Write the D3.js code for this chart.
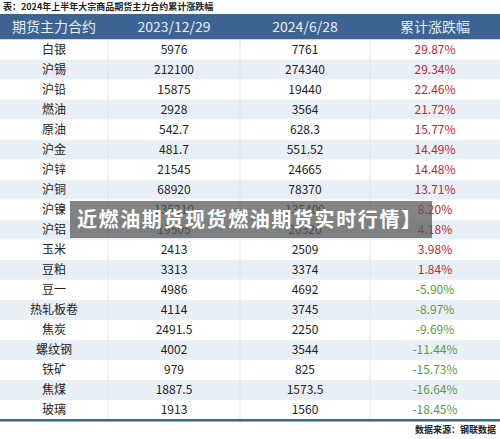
<!DOCTYPE html><html><head><meta charset="utf-8"><script src="https://cdn.jsdelivr.net/npm/d3@7"></script>
<style>body{margin:0;background:#fff}</style></head><body><svg id="c" width="500" height="439"></svg>
<script>
const names=["白银","沪锡","沪铅","燃油","原油","沪金","沪锌","沪铜","沪镍","沪铝","玉米","豆粕","豆一","热轧板卷","焦炭","螺纹钢","铁矿","焦煤","玻璃"];
const start=["5976","212100","15875","2928","542.7","481.7","21545","68920","135210","19505","2413","3313","4986","4114","2491.5","4002","979","1887.5","1913"];
const end=["7761","274340","19440","3564","628.3","551.52","24665","78370","135400","20320","2509","3374","4692","3745","2250","3544","825","1573.5","1560"];
const chg=[29.87,29.34,22.46,21.72,15.77,14.49,14.48,13.71,8.20,4.18,3.98,1.84,-5.90,-8.97,-9.69,-11.44,-15.73,-16.64,-18.45];
const headers=["期货主力合约","2023/12/29","2024/6/28","累计涨跌幅"];
const svg=d3.select("#c"),F="'Noto Sans CJK SC','Noto Sans',sans-serif";
const edges=[0,108,240,370,500],cx=i=>(edges[i]+edges[i+1])/2;
const y=d3.scaleBand().domain(d3.range(names.length)).range([39.5,420]);
svg.append("text").attr("x",3).attr("y",10).attr("font-family",F).attr("font-weight","bold").attr("font-size",9).attr("fill","#222").text("表：2024年上半年大宗商品期货主力合约累计涨跌幅");
svg.append("rect").attr("x",0).attr("y",14).attr("width",500).attr("height",25.5).attr("fill","#3d6393");
headers.forEach((h,i)=>svg.append("text").attr("x",cx(i)).attr("y",32).attr("text-anchor","middle").attr("font-family",F).attr("font-size",14).attr("fill","#e8eef6").text(h));
names.forEach((n,i)=>{
 const g=svg.append("g").attr("transform",`translate(0,${y(i)})`);
 g.append("rect").attr("width",500).attr("height",y.bandwidth()).attr("fill",i%2?"#e9eff7":"#fff");
 const vals=[n,start[i],end[i],chg[i].toFixed(2)+"%"];
 vals.forEach((v,j)=>g.append("text").attr("x",cx(j)).attr("y",y.bandwidth()/2+4.5).attr("text-anchor","middle").attr("font-family",F).attr("font-size",12).attr("fill",j<3?"#222":(chg[i]>=0?"#c0282c":"#5a9a3c")).text(v));
});
[108,240,370].forEach(e=>svg.append("line").attr("x1",e).attr("x2",e).attr("y1",39.5).attr("y2",420).attr("stroke","#dfe5ee"));
svg.append("rect").attr("x",0).attr("y",419).attr("width",500).attr("height",2.5).attr("fill","#3d6393");
svg.append("text").attr("x",496).attr("y",433).attr("text-anchor","end").attr("font-family",F).attr("font-weight","bold").attr("font-size",9).attr("fill","#222").text("数据来源：钢联数据");
svg.append("rect").attr("x",70).attr("y",201).attr("width",362).attr("height",37).attr("fill","rgba(90,90,90,0.75)");
svg.append("text").attr("x",77).attr("y",227).attr("font-family",F).attr("font-weight","bold").attr("font-size",20).attr("letter-spacing",1.6).attr("fill","#fff").text("近燃油期货现货燃油期货实时行情】");
</script></body></html>
